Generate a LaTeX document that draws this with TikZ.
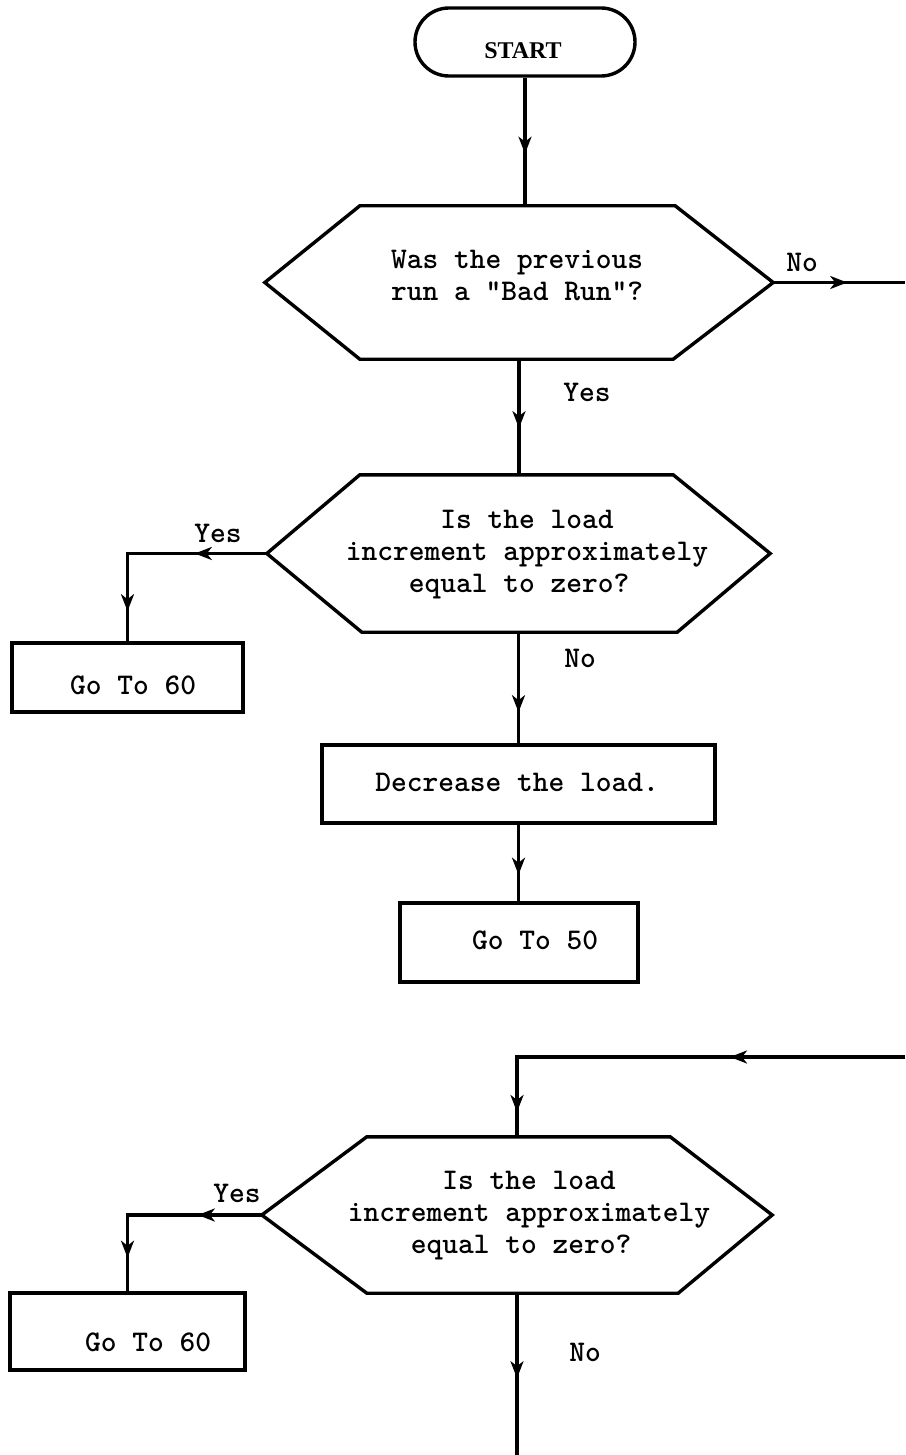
\documentclass[tikz,border=0pt]{standalone}
\usepackage{fontspec}
\newfontfamily\startfont{Liberation Serif}
\usetikzlibrary{arrows.meta,decorations.markings}

\tikzset{
  flowtip/.tip={Stealth[length=17pt,width=13pt,inset=5pt]},
  line/.style={line width=3.4pt, line join=miter},
  arrowat/.style={postaction={decorate,decoration={markings,
      mark=at position #1 with {\arrow{flowtip}}}}},
  procbox/.style={draw, line width=3.4pt, inner sep=0pt},
  hexframe/.style={draw=none, inner sep=0pt},
  txt/.style={font=\ttfamily\bfseries\fontsize{30}{32}\selectfont,
      inner sep=0pt, align=left},
  tag/.style={font=\ttfamily\bfseries\fontsize{30}{32}\selectfont, inner sep=0pt},
  starttxt/.style={inner sep=0pt},
}

% hexagonal decision outline around a named frame node:
% #1 node, #2 top-left inset, #3 top-right inset, #4 bottom-right inset, #5 bottom-left inset
\newcommand\hexoutline[5]{%
  \draw[line] (#1.west) -- ([xshift=#2]#1.north west) -- ([xshift=-#3]#1.north east)
    -- (#1.east) -- ([xshift=-#4]#1.south east) -- ([xshift=#5]#1.south west) -- cycle;}

\begin{document}
\begin{tikzpicture}[x=1pt, y=-1pt]
  \useasboundingbox (0,0) rectangle (905,1455);

  % terminal
  \node[procbox, rounded corners=33.9pt, minimum width=220, minimum height=68,
        label={[starttxt, xshift=-2pt, yshift=-9pt]center:{\startfont\bfseries\fontsize{24}{26}\selectfont START}}]
        (start) at (525,42) {};

  % first decision
  \node[hexframe, minimum width=508, minimum height=153,
        label={[txt, xshift=-2pt, yshift=7pt]center:{Was the previous\\run a "Bad Run"?}}]
        (h1) at (519,282.5) {};
  \hexoutline{h1}{95pt}{98pt}{100pt}{95pt}

  % second decision
  \node[hexframe, minimum width=503, minimum height=157,
        label={[txt, xshift=8.5pt, yshift=-1.5pt]center:{\phantom{xxxxxx}Is the load\\increment approximately\\\phantom{xxxx}equal to zero?}}]
        (h2) at (518.5,553.5) {};
  \hexoutline{h2}{93pt}{97pt}{93pt}{95pt}

  \node[procbox, minimum width=231, minimum height=69,
        label={[txt, xshift=5.5pt, yshift=-7.5pt]center:{Go To 60}}]
        (g60a) at (127.5,677.5) {};

  \node[procbox, minimum width=393, minimum height=78,
        label={[txt, xshift=-1.5pt, yshift=2pt]center:{Decrease the load.}}]
        (dec) at (518.5,784) {};

  \node[procbox, minimum width=238, minimum height=79,
        label={[txt, xshift=16pt, yshift=2.5pt]center:{Go To 50}}]
        (g50) at (519,942.5) {};

  % third decision
  \node[hexframe, minimum width=510, minimum height=156,
        label={[txt, xshift=12pt, yshift=-1pt]center:{\phantom{xxxxxx}Is the load\\increment approximately\\\phantom{xxxx}equal to zero?}}]
        (h3) at (517,1215) {};
  \hexoutline{h3}{105pt}{102pt}{94pt}{105pt}

  \node[procbox, minimum width=235, minimum height=77,
        label={[txt, xshift=20.5pt, yshift=-10.5pt]center:{Go To 60}}]
        (g60b) at (127.5,1331.5) {};

  % free ends of connectors
  \coordinate (noexit) at (905,282.5);
  \coordinate (entry) at (905,1057);
  \coordinate (tail) at (517,1455);

  % connectors
  \draw[line, arrowat=76pt] (start.south) -- (start.south |- h1.north);
  \draw[line, arrowat=74pt] (h1.east) -- (noexit);
  \draw[line, arrowat=69pt] (h1.south) -- (h1.south |- h2.north);
  \draw[line, arrowat=72pt, arrowat=197pt] (h2.west) -| (g60a.north);
  \draw[line, arrowat=80pt] (h2.south) -- (h2.south |- dec.north);
  \draw[line, arrowat=50pt] (dec.south) -- (dec.south |- g50.north);
  \draw[line, arrowat=175pt, arrowat=443pt] (entry) -| (h3.north);
  \draw[line, arrowat=64pt, arrowat=177pt] (h3.west) -| (g60b.north);
  \draw[line, arrowat=85pt] (h3.south) -- (tail);

  % branch labels
  \node[tag] (no1) at (802,262) {No};
  \node[tag] (yes1) at (587,392) {Yes};
  \node[tag] (yes2) at (218,533) {Yes};
  \node[tag] (no2) at (580,658) {No};
  \node[tag] (yes3) at (237,1193) {Yes};
  \node[tag] (no3) at (585,1352) {No};
\end{tikzpicture}
\end{document}
